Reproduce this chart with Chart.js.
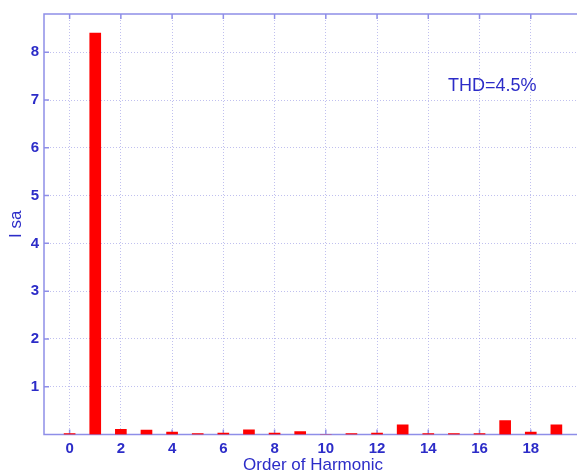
<!DOCTYPE html>
<html>
<head>
<meta charset="utf-8">
<script src="https://cdn.jsdelivr.net/npm/chart.js@4.4.1/dist/chart.umd.min.js"></script>
<style>
html, body { margin: 0; padding: 0; overflow: hidden; background: #fff; }
</style>
</head>
<body>
<canvas id="harmonics" width="590" height="476"></canvas>
<script>
const orders = [0, 1, 2, 3, 4, 5, 6, 7, 8, 9, 10, 11, 12, 13, 14, 15, 16, 17, 18, 19];
const isa = [0.02, 8.4, 0.11, 0.09, 0.05, 0.02, 0.03, 0.1, 0.03, 0.06, 0, 0.02, 0.03, 0.2, 0.02, 0.02, 0.02, 0.29, 0.05, 0.2];
const xTicks = [0, 2, 4, 6, 8, 10, 12, 14, 16, 18];
const yTicks = [1, 2, 3, 4, 5, 6, 7, 8];
const thdLabel = 'THD=4.5%';

const textBlue = '#2c2cc8';
const axisBlue = '#8e8ee8';
const gridBlue = 'rgba(140,140,225,0.55)';

// box round the plot, inward tick marks and the THD note
const frame = {
    id: 'frame',
    beforeDatasetsDraw(chart) {
        const { ctx, chartArea: a, scales: { x, y } } = chart;
        ctx.save();
        ctx.strokeStyle = axisBlue;
        ctx.lineWidth = 1.5;
        ctx.strokeRect(a.left, a.top, a.right - a.left, a.bottom - a.top);
        ctx.beginPath();
        xTicks.forEach(v => {
            const px = x.getPixelForValue(v);
            ctx.moveTo(px, a.bottom); ctx.lineTo(px, a.bottom - 5);
            ctx.moveTo(px, a.top); ctx.lineTo(px, a.top + 5);
        });
        yTicks.forEach(v => {
            const py = y.getPixelForValue(v);
            ctx.moveTo(a.left, py); ctx.lineTo(a.left + 5, py);
            ctx.moveTo(a.right, py); ctx.lineTo(a.right - 5, py);
        });
        ctx.stroke();
        ctx.fillStyle = textBlue;
        ctx.font = '18px "Liberation Sans", Arial, sans-serif';
        ctx.textAlign = 'center';
        ctx.textBaseline = 'middle';
        ctx.fillText(thdLabel, x.getPixelForValue(16.5), y.getPixelForValue(7.3));
        ctx.restore();
    }
};

const ctx = document.getElementById('harmonics').getContext('2d');
new Chart(ctx, {
    type: 'bar',
    data: {
        datasets: [{
            data: orders.map((o, i) => ({ x: o, y: isa[i] })),
            backgroundColor: '#ff0000',
            borderWidth: 0,
            barThickness: 11
        }]
    },
    options: {
        responsive: false,
        animation: false,
        layout: { padding: { top: 12, right: 8, left: 0, bottom: 0 } },
        plugins: { legend: { display: false }, tooltip: { enabled: false } },
        scales: {
            x: {
                type: 'linear',
                min: -1,
                max: 20,
                offset: false,
                afterBuildTicks: s => { s.ticks = xTicks.map(v => ({ value: v })); },
                afterFit: s => { s.height = 41.5; },
                border: { display: false, dash: [1, 2] },
                grid: { color: gridBlue, offset: false, drawTicks: false },
                ticks: {
                    padding: 5,
                    color: textBlue,
                    font: { family: '"Liberation Sans", Arial, sans-serif', size: 15, weight: 'bold' }
                },
                title: {
                    display: true,
                    text: 'Order of Harmonic',
                    color: textBlue,
                    padding: { top: 0, bottom: 0 },
                    font: { family: '"Liberation Sans", Arial, sans-serif', size: 17 }
                }
            },
            y: {
                min: 0,
                max: 8.8,
                afterBuildTicks: s => { s.ticks = yTicks.map(v => ({ value: v })); },
                afterFit: s => { s.width = 44; },
                border: { display: false, dash: [1, 2] },
                grid: { color: gridBlue, drawTicks: false },
                ticks: {
                    padding: 5,
                    color: textBlue,
                    font: { family: '"Liberation Sans", Arial, sans-serif', size: 15, weight: 'bold' }
                },
                title: {
                    display: true,
                    text: 'I sa',
                    color: textBlue,
                    padding: { top: 6, bottom: 0 },
                    font: { family: '"Liberation Sans", Arial, sans-serif', size: 17 }
                }
            }
        }
    },
    plugins: [frame]
});
</script>
</body>
</html>
